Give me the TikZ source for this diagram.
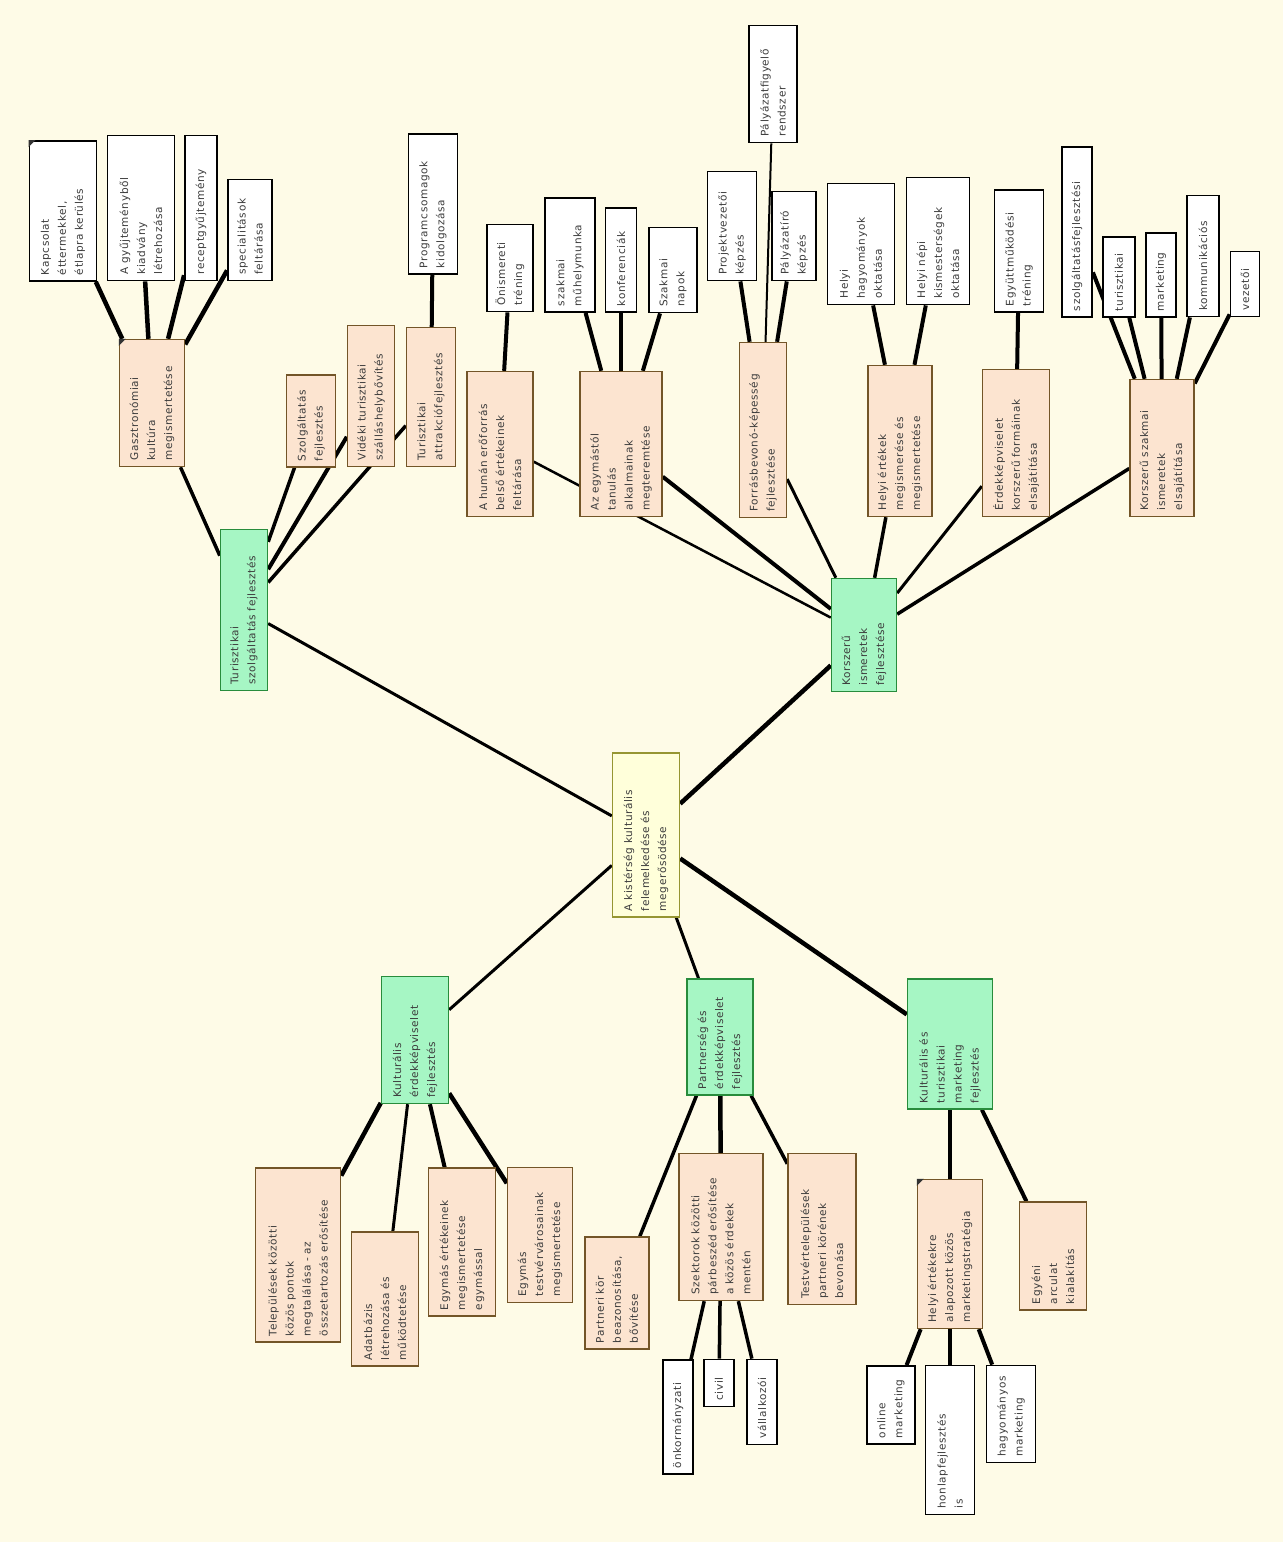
\documentclass[tikz,border=0pt]{standalone}
\usepackage{fontspec}
\setmainfont{DejaVu Sans}[LetterSpace=6]
\usetikzlibrary{positioning}
\definecolor{bgcream}{RGB}{254,251,231}
\definecolor{rootfill}{RGB}{255,255,218}
\definecolor{rootline}{RGB}{150,150,50}
\definecolor{mainfill}{RGB}{166,246,196}
\definecolor{mainline}{RGB}{40,140,60}
\definecolor{subfill}{RGB}{252,228,208}
\definecolor{subline}{RGB}{115,85,40}
\definecolor{txt}{RGB}{60,60,60}
\pgfdeclarelayer{bg}
\pgfsetlayers{bg,main}

\tikzset{
  rotnode/.style={rectangle, rotate=90, align=left, inner xsep=6pt, inner ysep=3pt,
    text=txt, font=\fontsize{10.5pt}{17pt}\selectfont},
  dims/.style 2 args={text width=#1pt-12pt, minimum height=#2pt},
  rootnode/.style={rotnode, fill=rootfill, draw=rootline, line width=1.4pt},
  mainnode/.style={rotnode, fill=mainfill, draw=mainline, line width=1.4pt},
  subnode/.style={rotnode, fill=subfill, draw=subline, line width=1.4pt},
  leafnode/.style={rotnode, fill=white, draw=black, line width=1.8pt},
  conn/.style={line width=#1pt},
  conn/.default=4,
  notemark/.style={fill=black!80}
}

\begin{document}
\begin{tikzpicture}[x=1pt, y=-1pt]
    \useasboundingbox (0,0) rectangle (1283,1542);

    % centre and main branches
    \node[rootnode, dims={164}{67}] (root) at (646,835) {A kistérség kulturális\\felemelkedése és\\megerősödése};
    \node[mainnode, dims={161}{47}] (turiszt) at (244,610) {Turisztikai\\szolgáltatás fejlesztés};
    \node[mainnode, dims={113}{65}] (korszeru) at (864,635) {Korszerű\\ismeretek\\fejlesztése};
    \node[mainnode, dims={127}{67}] (kulterd) at (415,1040) {Kulturális\\érdekképviselet\\fejlesztés};
    \node[mainnode, dims={116}{66}] (partner) at (720,1037) {Partnerség és\\érdekképviselet\\fejlesztés};
    \node[mainnode, dims={130}{85}] (marketing) at (950,1044) {Kulturális és\\turisztikai\\marketing\\fejlesztés};

    % second level
    \node[subnode, dims={127}{65}] (gasztro) at (152,403) {Gasztronómiai\\kultúra\\megismertetése};
    \node[subnode, dims={92}{49}] (szolgfejl) at (311,421) {Szolgáltatás\\fejlesztés};
    \node[subnode, dims={141}{47}] (videki) at (371,396) {Vidéki turisztikai\\szálláshelybővítés};
    \node[subnode, dims={139}{49}] (attrakcio) at (431,397) {Turisztikai\\attrakciófejlesztés};
    \node[subnode, dims={145}{66}] (human) at (500,444) {A humán erőforrás\\belső értékeinek\\feltárása};
    \node[subnode, dims={145}{82}] (egymastol) at (621,444) {Az egymástól\\tanulás\\alkalmainak\\megteremtése};
    \node[subnode, dims={175}{47}] (forras) at (763,430) {Forrásbevonó-képesség\\fejlesztése};
    \node[subnode, dims={151}{64}] (helyiert) at (900,441) {Helyi értékek\\megismerése és\\megismertetése};
    \node[subnode, dims={147}{67}] (erdekkepv) at (1016,443) {Érdekképviselet\\korszerű formáinak\\elsajátítása};
    \node[subnode, dims={137}{64}] (szakmai) at (1162,448) {Korszerű szakmai\\ismeretek\\elsajátítása};
    \node[subnode, dims={174}{85}] (telepulesek) at (298,1255) {Települések közötti\\közös pontok\\megtalálása - az\\összetartozás erősítése};
    \node[subnode, dims={134}{67}] (adatbazis) at (385,1299) {Adatbázis\\létrehozása és\\működtetése};
    \node[subnode, dims={148}{67}] (egymaserteke) at (462,1242) {Egymás értékeinek\\megismertetése\\egymással};
    \node[subnode, dims={135}{65}] (testvervaros) at (540,1235) {Egymás\\testvérvárosainak\\megismertetése};
    \node[subnode, dims={112}{64}] (partneri) at (617,1293) {Partneri kör\\beazonosítása,\\bővítése};
    \node[subnode, dims={147}{84}] (szektorok) at (721,1227) {Szektorok közötti\\párbeszéd erősítése\\a közös érdekek\\mentén};
    \node[subnode, dims={151}{68}] (testvertelep) at (822,1229) {Testvértelepülések\\partneri körének\\bevonása};
    \node[subnode, dims={149}{65}] (helyimark) at (950,1254) {Helyi értékekre\\alapozott közös\\marketingstratégia};
    \node[subnode, dims={108}{67}] (egyeni) at (1053,1256) {Egyéni\\arculat\\kialakítás};

    % leaves
    \node[leafnode, dims={140}{67}] (kapcsolat) at (63,211) {Kapcsolat\\éttermekkel,\\étlapra kerülés};
    \node[leafnode, dims={145}{67}] (gyujtemeny) at (141,208) {A gyűjteményből\\kiadvány\\létrehozása};
    \node[leafnode, dims={145}{32}] (recept) at (201,208) {receptgyűjtemény};
    \node[leafnode, dims={101}{44}] (special) at (250,230) {specialitások\\feltárása};
    \node[leafnode, dims={140}{49}] (program) at (433,204) {Programcsomagok\\kidolgozása};
    \node[leafnode, dims={87}{46}] (onismeret) at (510,268) {Önismereti\\tréning};
    \node[leafnode, dims={114}{50}] (muhely) at (570,255) {szakmai\\műhelymunka};
    \node[leafnode, dims={104}{31}] (konf) at (621,260) {konferenciák};
    \node[leafnode, dims={85}{48}] (szaknap) at (673,270) {Szakmai\\napok};
    \node[leafnode, dims={109}{49}] (projekt) at (732,226) {Projektvezetői\\képzés};
    \node[leafnode, dims={89}{44}] (palyiro) at (794,236) {Pályázatíró\\képzés};
    \node[leafnode, dims={117}{48}] (palyfigy) at (773,84) {Pályázatfigyelő\\rendszer};
    \node[leafnode, dims={121}{67}] (helyihagy) at (861,244) {Helyi\\hagyományok\\oktatása};
    \node[leafnode, dims={127}{63}] (kismester) at (938,241) {Helyi népi\\kismesterségek\\oktatása};
    \node[leafnode, dims={122}{49}] (egyutt) at (1019,251) {Együttműködési\\tréning};
    \node[leafnode, dims={170}{30}] (szolgfejlesz) at (1077,232) {szolgáltatásfejlesztési};
    \node[leafnode, dims={80}{32}] (turleaf) at (1119,277) {turisztikai};
    \node[leafnode, dims={84}{30}] (markleaf) at (1161,275) {marketing};
    \node[leafnode, dims={121}{32}] (kommunik) at (1203,256) {kommunikációs};
    \node[leafnode, dims={65}{29}] (vezetoi) at (1245,284) {vezetői};
    \node[leafnode, dims={114}{30}] (onkorm) at (678,1417) {önkormányzati};
    \node[leafnode, dims={47}{30}] (civil) at (719,1383) {civil};
    \node[leafnode, dims={85}{30}] (vallalk) at (762,1402) {vállalkozói};
    \node[leafnode, dims={78}{48}] (online) at (891,1405) {online\\marketing};
    \node[leafnode, dims={149}{49}] (honlap) at (950,1440) {honlapfejlesztés\\is};
    \node[leafnode, dims={97}{49}] (hagyomanyos) at (1011,1414) {hagyományos\\marketing};

    % note marks
    \fill[notemark] (kapcsolat.north east) -- ++(7,0) -- ++(-7,7) -- cycle;
    \fill[notemark] (gasztro.north east) -- ++(7,0) -- ++(-7,7) -- cycle;
    \fill[notemark] (helyimark.north east) -- ++(7,0) -- ++(-7,7) -- cycle;

    % connectors, behind the boxes
    \begin{pgfonlayer}{bg}
    \fill[bgcream] (0,0) rectangle (1283,1542);
    \draw[conn=3] (root) -- (turiszt);
    \draw[conn=4.5] (root) -- (korszeru);
    \draw[conn=3] (root) -- (kulterd);
    \draw[conn=3] (root) -- (partner);
    \draw[conn=4.5] (root) -- (marketing);

    \draw[conn=3.5] (turiszt) -- (gasztro);
    \draw[conn=3.5] (turiszt) -- (szolgfejl);
    \draw[conn=4] (turiszt) -- (videki);
    \draw[conn=3.5] (turiszt) -- (attrakcio);
    \draw[conn=4.5] (gasztro) -- (kapcsolat);
    \draw[conn=4.5] (gasztro) -- (gyujtemeny);
    \draw[conn=4.5] (gasztro) -- (recept);
    \draw[conn=4.5] (gasztro) -- (special);
    \draw[conn] (attrakcio) -- (program);

    \draw[conn=2.5] (korszeru) -- (human);
    \draw[conn] (korszeru) -- (egymastol);
    \draw[conn=3] (korszeru) -- (forras);
    \draw[conn=3.5] (korszeru) -- (helyiert);
    \draw[conn=3] (korszeru) -- (erdekkepv);
    \draw[conn=3.5] (korszeru) -- (szakmai);
    \draw[conn] (human) -- (onismeret);
    \draw[conn] (egymastol) -- (muhely);
    \draw[conn] (egymastol) -- (konf);
    \draw[conn] (egymastol) -- (szaknap);
    \draw[conn] (forras) -- (projekt);
    \draw[conn] (forras) -- (palyiro);
    \draw[conn=2] (forras) -- (palyfigy);
    \draw[conn] (helyiert) -- (helyihagy);
    \draw[conn] (helyiert) -- (kismester);
    \draw[conn] (erdekkepv) -- (egyutt);
    \draw[conn] (szakmai) -- (szolgfejlesz);
    \draw[conn] (szakmai) -- (turleaf);
    \draw[conn] (szakmai) -- (markleaf);
    \draw[conn] (szakmai) -- (kommunik);
    \draw[conn] (szakmai) -- (vezetoi);

    \draw[conn=4.5] (kulterd) -- (telepulesek);
    \draw[conn=3] (kulterd) -- (adatbazis);
    \draw[conn] (kulterd) -- (egymaserteke);
    \draw[conn=4.5] (kulterd) -- (testvervaros);

    \draw[conn=3.5] (partner) -- (partneri);
    \draw[conn=4.5] (partner) -- (szektorok);
    \draw[conn=3.5] (partner) -- (testvertelep);
    \draw[conn=3.5] (szektorok) -- (onkorm);
    \draw[conn=3.5] (szektorok) -- (civil);
    \draw[conn=3.5] (szektorok) -- (vallalk);

    \draw[conn=4.5] (marketing) -- (helyimark);
    \draw[conn] (marketing) -- (egyeni);
    \draw[conn] (helyimark) -- (online);
    \draw[conn] (helyimark) -- (honlap);
    \draw[conn] (helyimark) -- (hagyomanyos);
    \end{pgfonlayer}
\end{tikzpicture}
\end{document}
